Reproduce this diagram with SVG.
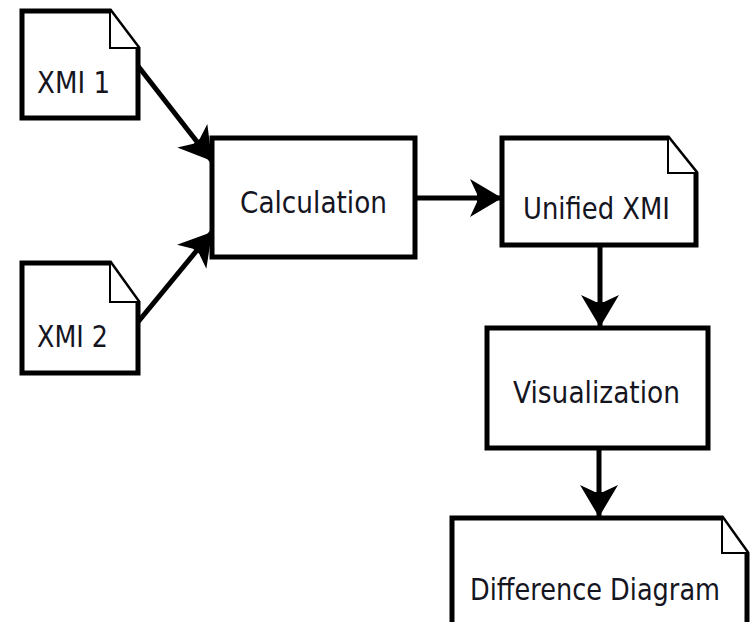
<svg xmlns="http://www.w3.org/2000/svg" width="753" height="622" viewBox="0 0 753 622">
  <style>
    .shape { fill: #ffffff; stroke: #000000; stroke-width: 5; stroke-linejoin: miter; }
    .fold { fill: #ffffff; stroke: #000000; stroke-width: 2; }
    .label { font-family: "DejaVu Sans", "Liberation Sans", sans-serif; font-size: 30px; fill: #15151f; }
    .edge { fill: none; stroke: #000000; stroke-width: 5; }
  </style>
  <defs>
    <!-- barbed filled arrowhead, tip at the path end -->
    <marker id="head" markerUnits="userSpaceOnUse" markerWidth="40" markerHeight="46" viewBox="-34 -23 36 46" refX="0" refY="0" orient="auto">
      <path d="M0,0 L-32,-19 L-25,-4 L-25,4 L-32,19 Z" fill="#000000"/>
    </marker>
  </defs>
  <rect width="753" height="622" fill="#ffffff"/>

  <!-- connectors -->
  <g id="connectors">
    <path class="edge" d="M138,66 L212,161" marker-end="url(#head)"/>
    <path class="edge" d="M138,322 L212,232" marker-end="url(#head)"/>
    <path class="edge" d="M415,198 L502,198" marker-end="url(#head)"/>
    <path class="edge" d="M600,245 L600,327" marker-end="url(#head)"/>
    <path class="edge" d="M599,448 L599,517" marker-end="url(#head)"/>
  </g>

  <!-- input document: XMI 1 -->
  <g id="xmi1">
    <path class="shape" d="M22,11 L110,11 L138,48 L138,118 L22,118 Z"/>
    <path class="fold" d="M110,11 L110,48 L138,48"/>
    <text class="label" x="37" y="93" textLength="73" lengthAdjust="spacingAndGlyphs">XMI 1</text>
  </g>

  <!-- input document: XMI 2 -->
  <g id="xmi2">
    <path class="shape" d="M22,263 L110,263 L138,302 L138,373 L22,373 Z"/>
    <path class="fold" d="M110,263 L110,302 L138,302"/>
    <text class="label" x="37" y="347" textLength="71" lengthAdjust="spacingAndGlyphs">XMI 2</text>
  </g>

  <!-- process: Calculation -->
  <g id="calculation">
    <rect class="shape" x="212" y="138" width="203" height="119"/>
    <text class="label" x="240" y="213" textLength="147" lengthAdjust="spacingAndGlyphs">Calculation</text>
  </g>

  <!-- output document: Unified XMI -->
  <g id="unified-xmi">
    <path class="shape" d="M502,138 L668,138 L696,173 L696,245 L502,245 Z"/>
    <path class="fold" d="M668,138 L668,173 L696,173"/>
    <text class="label" x="523" y="219" textLength="147" lengthAdjust="spacingAndGlyphs">Unified XMI</text>
  </g>

  <!-- process: Visualization -->
  <g id="visualization">
    <rect class="shape" x="487" y="328" width="221" height="120"/>
    <text class="label" x="513" y="403" textLength="167" lengthAdjust="spacingAndGlyphs">Visualization</text>
  </g>

  <!-- output document: Difference Diagram (runs past the lower edge) -->
  <g id="difference-diagram">
    <path class="shape" d="M452,518 L722,518 L747,553 L747,640 L452,640 Z"/>
    <path class="fold" d="M722,518 L722,553 L747,553"/>
    <text class="label" x="470" y="600" textLength="250" lengthAdjust="spacingAndGlyphs">Difference Diagram</text>
  </g>
</svg>
